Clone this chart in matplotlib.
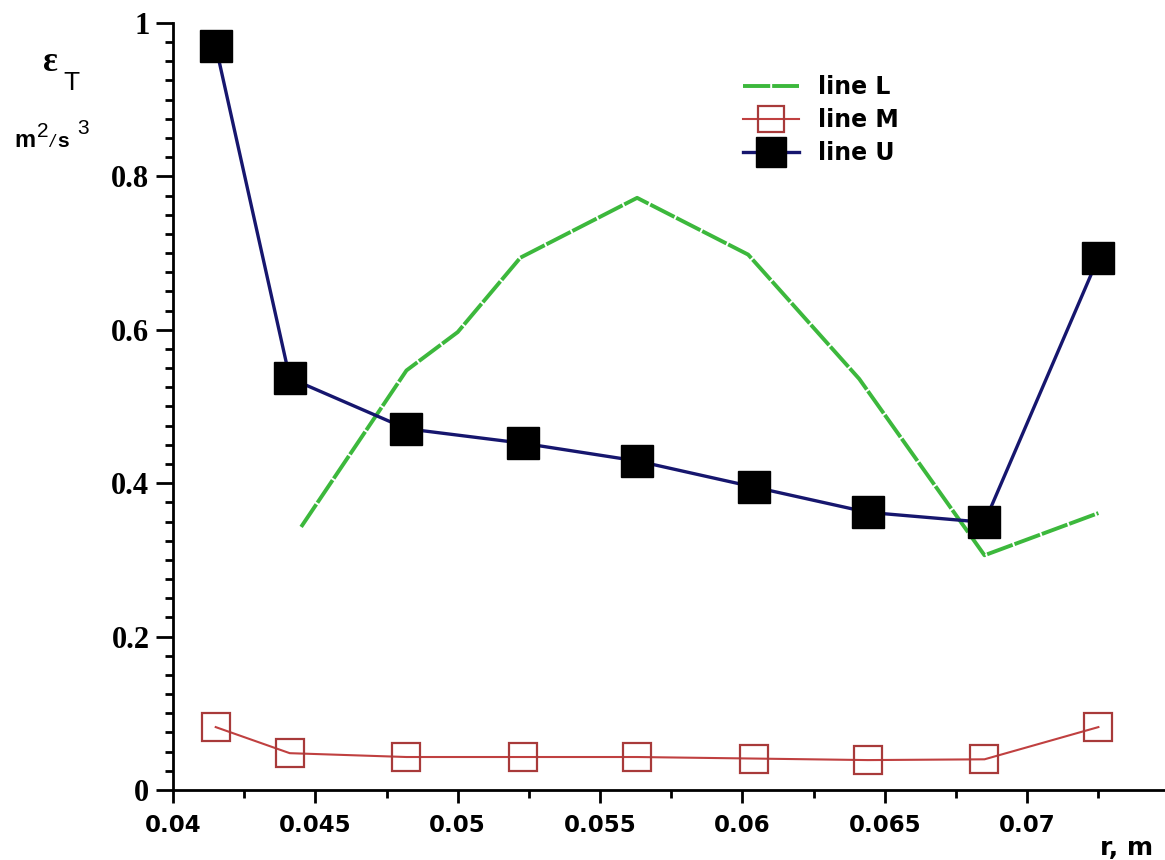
import matplotlib
matplotlib.use("Agg")
import matplotlib.pyplot as plt
from matplotlib.ticker import MultipleLocator, FuncFormatter

# data
r_pts = [0.0415, 0.0441, 0.0482, 0.0523, 0.0563, 0.0604, 0.0644, 0.0685, 0.0725]
eps_U = [0.970, 0.537, 0.471, 0.452, 0.429, 0.395, 0.362, 0.349, 0.694]
eps_M = [0.082, 0.048, 0.043, 0.043, 0.043, 0.041, 0.039, 0.040, 0.082]
r_L = [0.0445, 0.0482, 0.0500, 0.0522, 0.0563, 0.0602, 0.0641, 0.0685, 0.0725]
eps_L = [0.343, 0.547, 0.597, 0.694, 0.772, 0.698, 0.536, 0.306, 0.361]

xticks = [0.04, 0.045, 0.05, 0.055, 0.06, 0.065, 0.07]
yticks = [0, 0.2, 0.4, 0.6, 0.8, 1.0]

fig = plt.figure(figsize=(11.65, 8.6), dpi=100)
ax = fig.add_axes([0.1485, 0.0814, 0.8515, 0.8919])

ax.plot(r_L, eps_L, color='#3cb83c', lw=2.8, dashes=[7, 0.5], label='line L', zorder=2)
ax.plot(r_pts, eps_M, color='#c04040', lw=1.5, marker='s', ms=20, mfc='none',
        mec='#a83a3a', mew=1.6, label='line M', zorder=3)
ax.plot(r_pts, eps_U, color='#16166e', lw=2.4, marker='s', ms=23, mfc='black',
        mec='black', label='line U', zorder=4)

ax.set_xlim(0.04, 0.07484)
ax.set_ylim(0, 1.0)
for s in ['top', 'right']:
    ax.spines[s].set_visible(False)
for s in ['left', 'bottom']:
    ax.spines[s].set_linewidth(2)

ax.xaxis.set_major_locator(plt.FixedLocator(xticks))
ax.xaxis.set_minor_locator(MultipleLocator(0.0025))
ax.yaxis.set_major_locator(plt.FixedLocator(yticks))
ax.yaxis.set_minor_locator(MultipleLocator(0.025))
ax.xaxis.set_major_formatter(FuncFormatter(lambda v, p: '%g' % round(v, 4)))
ax.yaxis.set_major_formatter(FuncFormatter(lambda v, p: '%g' % round(v, 2)))

ax.tick_params(axis='x', which='major', length=9, width=2, pad=8)
ax.tick_params(axis='x', which='minor', length=6, width=2)
ax.tick_params(axis='y', which='major', length=12, width=2, pad=5)
ax.tick_params(axis='y', which='minor', length=6, width=2)
for lab in ax.get_xticklabels():
    lab.set_fontfamily('DejaVu Sans')
    lab.set_fontweight('bold')
    lab.set_fontsize(16.5)
for lab in ax.get_yticklabels():
    lab.set_fontfamily('Liberation Serif')
    lab.set_fontweight('bold')
    lab.set_fontsize(22)

leg = ax.legend(loc='upper left', bbox_to_anchor=(0.553, 0.96), frameon=False,
                prop={'family': 'DejaVu Sans', 'weight': 'bold', 'size': 17},
                handlelength=2.4, handletextpad=0.8, labelspacing=0.38,
                markerscale=0.95)

# axis titles
fig.text(1153 / 1165, 1 - 855 / 860, 'r, m', ha='right', va='baseline',
         fontsize=18, fontweight='bold', family='DejaVu Sans')
fig.text(43 / 1165, 1 - 71 / 860, 'ε', ha='left', va='baseline',
         fontsize=25, fontweight='bold', family='Liberation Serif')
fig.text(63 / 1165, 1 - 90 / 860, 'T', ha='left', va='baseline',
         fontsize=19, family='Liberation Sans')
fig.text(14 / 1165, 1 - 147 / 860, 'm', ha='left', va='baseline',
         fontsize=17, fontweight='bold', family='Liberation Sans')
fig.text(37 / 1165, 1 - 137 / 860, '2', ha='left', va='baseline',
         fontsize=15, family='Liberation Sans')
fig.text(49 / 1165, 1 - 147 / 860, '/', ha='left', va='baseline',
         fontsize=13, fontstyle='italic', family='Liberation Sans')
fig.text(57 / 1165, 1 - 147 / 860, 's', ha='left', va='baseline',
         fontsize=15, fontweight='bold', family='Liberation Sans')
fig.text(77 / 1165, 1 - 134 / 860, '3', ha='left', va='baseline',
         fontsize=15, family='Liberation Sans')

fig.savefig('out.png', dpi=100)
